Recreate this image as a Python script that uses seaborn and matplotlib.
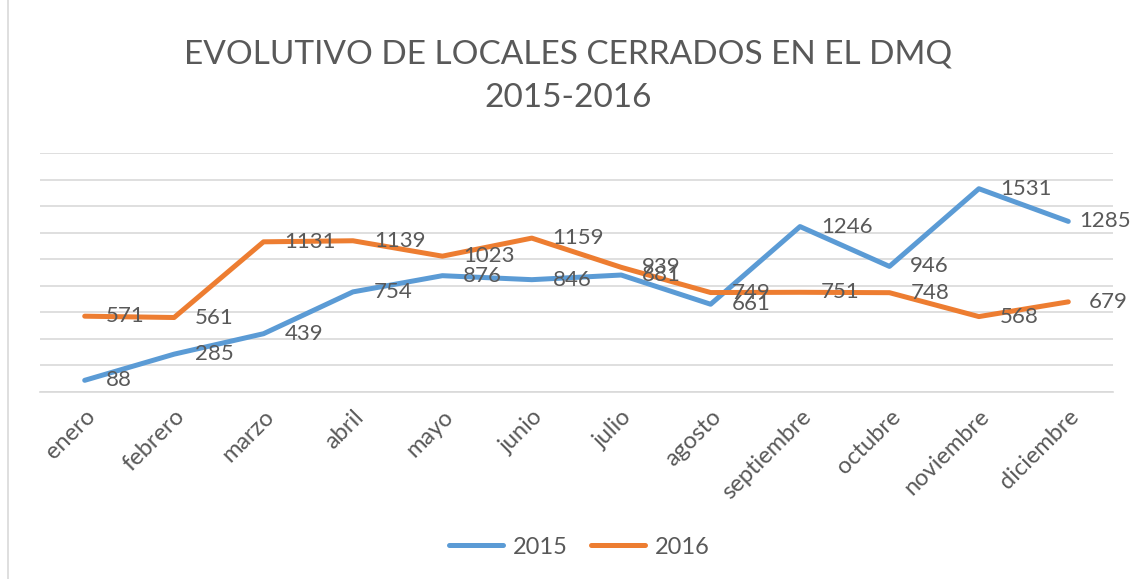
import numpy as np
import pandas as pd
import seaborn as sns
import matplotlib.pyplot as plt
from matplotlib.lines import Line2D

sns.set_theme(style="white")
plt.rcParams['font.family'] = ['Lato', 'DejaVu Sans']

meses = ["enero", "febrero", "marzo", "abril", "mayo", "junio", "julio",
         "agosto", "septiembre", "octubre", "noviembre", "diciembre"]
v2015 = [88, 285, 439, 754, 876, 846, 881, 661, 1246, 946, 1531, 1285]
v2016 = [571, 561, 1131, 1139, 1023, 1159, 939, 749, 751, 748, 568, 679]
years = ["2015", "2016"]

gray = "#595959"
my_palette = {"2015": "#5B9BD5", "2016": "#ED7D31"}

rows = []
for year, vals in zip(years, [v2015, v2016]):
    for i, v in enumerate(vals):
        rows.append({"pos": i, "mes": meses[i], "year": year, "value": v})
df = pd.DataFrame(rows)

fig = plt.figure(figsize=(11.36, 5.79), dpi=100)
ax = fig.add_axes([40/1136, 1-392/579, (1113-40)/1136, (392-153)/579])

f = sns.lineplot(data=df, x="pos", y="value", hue="year", palette=my_palette,
                 linewidth=3.6, sort=False, legend=False, ax=ax)
for line in f.lines:
    line.set_solid_capstyle("round")
    line.set_solid_joinstyle("round")

# data labels to the right of each point
for year, vals in zip(years, [v2015, v2016]):
    for i, v in enumerate(vals):
        dx = 15
        if year == "2015" and i == len(vals) - 1:
            dx = 8
        ax.annotate(str(v), (i, v), xytext=(dx, 0), textcoords="offset points",
                    ha="left", va="center", fontsize=16, color=gray,
                    annotation_clip=False)

ax.set_xlim(-0.5, len(meses) - 0.5)
ax.set_ylim(0, 1800)
ax.set_yticks(np.arange(0, 1801, 200))
ax.yaxis.grid(True, color="#d9d9d9", linewidth=1.2)
ax.set_yticklabels([])
ax.tick_params(axis="y", length=0)
for s in ["top", "right", "left"]:
    ax.spines[s].set_visible(False)
ax.spines["bottom"].set_color("#d9d9d9")
ax.spines["bottom"].set_linewidth(1.2)

ax.set_xticks(range(len(meses)))
ax.set_xticklabels(meses, rotation=45, ha="right", rotation_mode="anchor",
                   fontsize=17, color=gray)
ax.tick_params(axis="x", length=0, pad=10)
ax.set_xlabel("")
ax.set_ylabel("")

fig.text(0.5, 1-55/579, "EVOLUTIVO DE LOCALES CERRADOS EN EL DMQ", ha="center",
         va="center", fontsize=24, color=gray)
fig.text(0.5, 1-98/579, "2015-2016", ha="center", va="center", fontsize=24,
         color=gray)

handles = [Line2D([], [], color=my_palette[y], linewidth=3.6) for y in years]
fig.legend(handles, years, loc="center", bbox_to_anchor=(0.51, 1-547/579),
           ncol=2, frameon=False, fontsize=17, labelcolor=gray,
           handlelength=2.3, columnspacing=1.0, handletextpad=0.4)

fig.add_artist(Line2D([8/1136, 8/1136], [0, 1], color="#d9d9d9", linewidth=1.2))

plt.savefig("out.png", dpi=100)
